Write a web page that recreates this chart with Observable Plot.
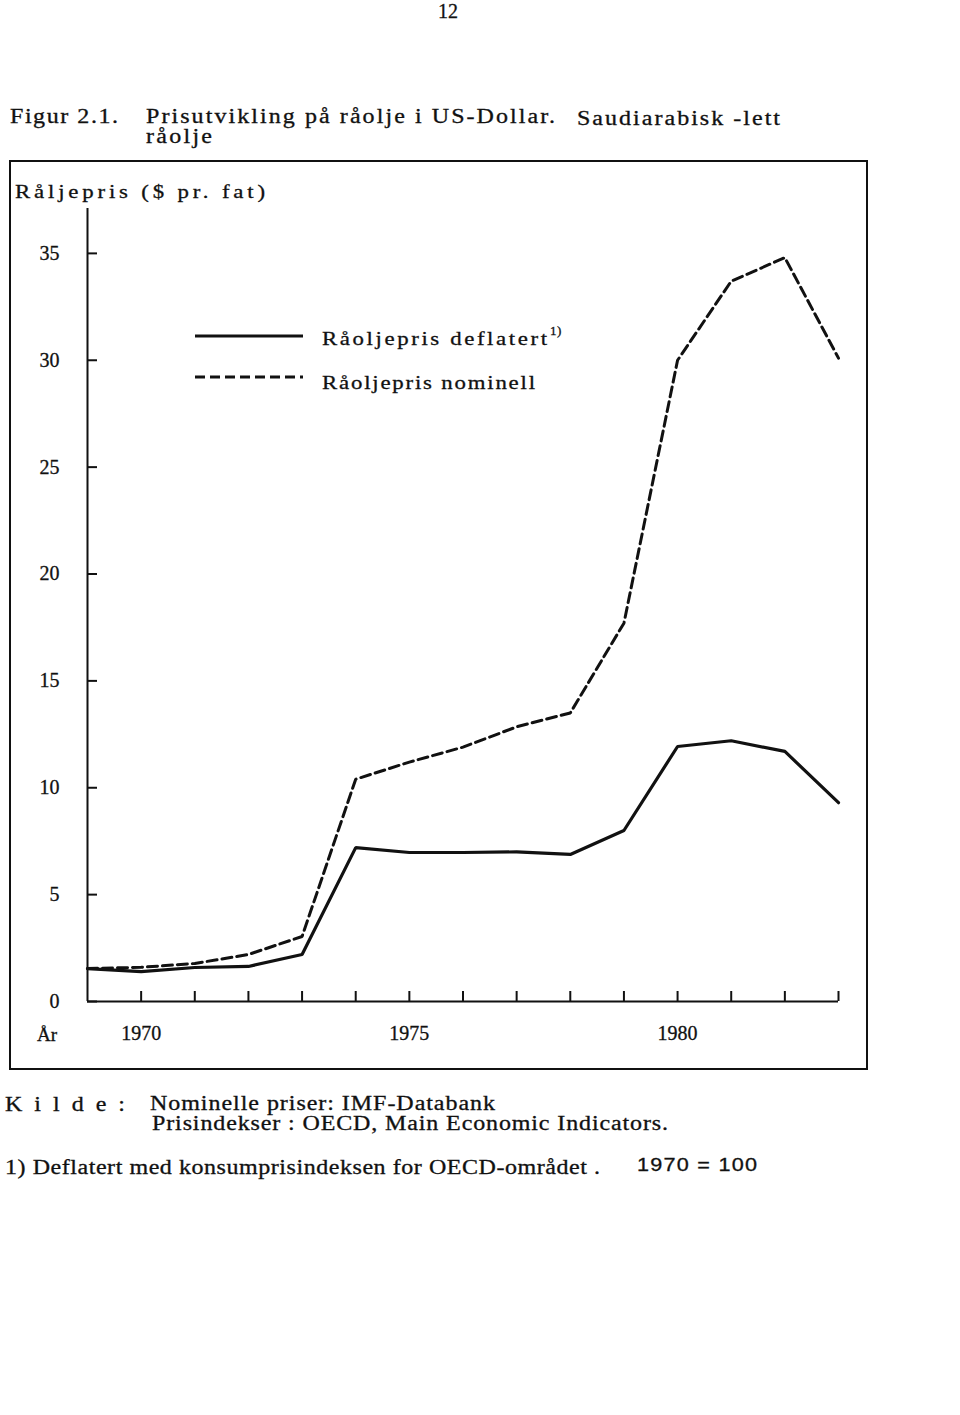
<!DOCTYPE html>
<html>
<head>
<meta charset="utf-8">
<script src="https://cdn.jsdelivr.net/npm/d3@7"></script>
<script src="https://cdn.jsdelivr.net/npm/@observablehq/plot@0.6"></script>
<style>
  body { margin: 0; background: #fff; }
  #page { position: relative; width: 960px; height: 1415px; overflow: hidden;
          font-family: "Liberation Serif", "DejaVu Serif", serif; color: #111; background: #fff; }
  .t { position: absolute; white-space: pre; font-size: 19px; line-height: 19px; -webkit-text-stroke: 0.3px #111; transform-origin: left top; }
  .big { font-size: 20px; line-height: 20px; }
  #box { position: absolute; left: 9px; top: 160px; width: 855px; height: 906px; border: 2px solid #111; pointer-events: none; }
  #chart { position: absolute; left: 0; top: 180px; }
  #chart text { stroke: #111; stroke-width: 0.3px; }
  .main { display: inline-block; transform-origin: left top; }
  .sup { font-size: 12px; position: absolute; top: -6px; letter-spacing: 0.5px; }
</style>
</head>
<body>
<div id="page">
  <div class="t big" data-w="20" style="left:438px; top:1px;">12</div>
  <div class="t big" data-w="108" style="left:10px; top:106px;">Figur 2.1.</div>
  <div class="t big" data-w="409" style="left:146px; top:106px;">Prisutvikling på råolje i US-Dollar.</div>
  <div class="t big" data-w="203" style="left:577px; top:108px;">Saudiarabisk -lett</div>
  <div class="t big" data-w="66" style="left:146px; top:126px;">råolje</div>
  <div class="t" data-w="250" style="left:15px; top:182px;">Råljepris ($ pr. fat)</div>
  <div class="t" data-w="20" style="left:37px; top:1025px;">År</div>
  <div id="legend"></div>
  <div class="t big" data-w="120" style="left:5px; top:1094px;">K i l d e :</div>
  <div class="t big" data-w="345" style="left:150px; top:1093px;">Nominelle priser: IMF-Databank</div>
  <div class="t big" data-w="516" style="left:152px; top:1113px;">Prisindekser : OECD, Main Economic Indicators.</div>
  <div class="t big" data-w="595" style="left:5px; top:1157px;">1) Deflatert med konsumprisindeksen for OECD-området .</div>
  <div class="t" data-w="120" style="left:637px; top:1156px; font-family:'Liberation Sans',sans-serif; font-size:18px;">1970 = 100</div>
  <div id="box"></div>
</div>
<script>
// ---- data ----
const years    = [1969, 1970, 1971, 1972, 1973, 1974, 1975, 1976, 1977, 1978, 1979, 1980, 1981, 1982, 1983];
const deflated = [1.54, 1.40, 1.59, 1.64, 2.20, 7.20, 6.97, 6.97, 7.00, 6.88, 8.00, 11.93, 12.20, 11.70, 9.30];
const nominal  = [1.54, 1.60, 1.78, 2.20, 3.04, 10.40, 11.20, 11.90, 12.85, 13.50, 17.70, 30.00, 33.70, 34.80, 30.10];
const yTicks   = [0, 5, 10, 15, 20, 25, 30, 35];
const xTicks   = [1970, 1971, 1972, 1973, 1974, 1975, 1976, 1977, 1978, 1979, 1980, 1981, 1982, 1983];
const xLabels  = [1970, 1975, 1980];
const seriesNames = ["Råoljepris deflatert", "Råoljepris nominell"];
const footnoteMark = "1)";

const data = years.map((year, i) => ({year, deflated: deflated[i], nominal: nominal[i]}));

const chart = Plot.plot({
  width: 960,
  height: 880,
  marginLeft: 87,
  marginRight: 122,
  marginTop: 28,
  marginBottom: 59,
  style: {fontFamily: '"Liberation Serif", serif', fontSize: "20px", color: "#111", background: "none", overflow: "visible"},
  x: {domain: [1969, 1983], label: null},
  y: {domain: [0, 37.1], label: null},
  marks: [
    Plot.ruleX([1969], {stroke: "#111", strokeWidth: 2}),
    Plot.ruleY([0], {stroke: "#111", strokeWidth: 2}),
    Plot.axisY(yTicks, {tickSize: -10, tickPadding: 38, strokeWidth: 2, tickFormat: d => String(d), label: null}),
    Plot.axisX(xTicks, {tickSize: -10, tickPadding: 34, strokeWidth: 2, tickFormat: d => xLabels.includes(d) ? String(d) : "", label: null}),
    Plot.line(data, {x: "year", y: "nominal", stroke: "#111", strokeWidth: 3, strokeDasharray: "10,5", strokeLinejoin: "miter"}),
    Plot.line(data, {x: "year", y: "deflated", stroke: "#111", strokeWidth: 3.2, strokeLinejoin: "miter"})
  ]
});
chart.id = "chart";
document.getElementById("page").insertBefore(chart, document.getElementById("box"));

// ---- legend (HTML, inside the frame) ----
const legend = document.getElementById("legend");
const legendRows = [
  {name: seriesNames[0], dash: null, sup: footnoteMark, lineY: 336, textTop: 329, w: 225},
  {name: seriesNames[1], dash: "10,5", sup: "", lineY: 377, textTop: 373, w: 213}
];
legendRows.forEach(r => {
  const svg = document.createElementNS("http://www.w3.org/2000/svg", "svg");
  svg.setAttribute("width", 110); svg.setAttribute("height", 8);
  svg.style.position = "absolute"; svg.style.left = "194px"; svg.style.top = (r.lineY - 4) + "px";
  const ln = document.createElementNS("http://www.w3.org/2000/svg", "line");
  ln.setAttribute("x1", 1); ln.setAttribute("x2", 109); ln.setAttribute("y1", 4); ln.setAttribute("y2", 4);
  ln.setAttribute("stroke", "#111"); ln.setAttribute("stroke-width", 3);
  if (r.dash) ln.setAttribute("stroke-dasharray", r.dash);
  svg.appendChild(ln);
  legend.appendChild(svg);
  const t = document.createElement("div");
  t.className = "t";
  t.style.left = "322px"; t.style.top = r.textTop + "px";
  t.textContent = r.name;
  t.dataset.w = r.w;
  legend.appendChild(t);
  if (r.sup) {
    const s = document.createElement("div");
    s.className = "t sup"; s.textContent = r.sup;
    s.style.left = (322 + r.w + 3) + "px"; s.style.top = (r.textTop - 5) + "px";
    s.style.fontSize = "13px"; s.style.lineHeight = "13px";
    legend.appendChild(s);
  }
});

// ---- fit typewriter-like widths: widen glyphs a little, then space them ----
const ctx = document.createElement("canvas").getContext("2d");
document.querySelectorAll("[data-w]").forEach(el => {
  const cs = getComputedStyle(el);
  ctx.font = `${cs.fontSize} ${cs.fontFamily}`;
  const txt = el.textContent;
  const w = ctx.measureText(txt).width;
  const W = +el.dataset.w;
  const s = Math.max(1, Math.min(1.2, W / w));
  const n = Math.max(1, txt.length - 1);
  el.style.transform = `scaleX(${s})`;
  el.style.letterSpacing = Math.max(0, (W / s - w) / n) + "px";
});
</script>
</body>
</html>
